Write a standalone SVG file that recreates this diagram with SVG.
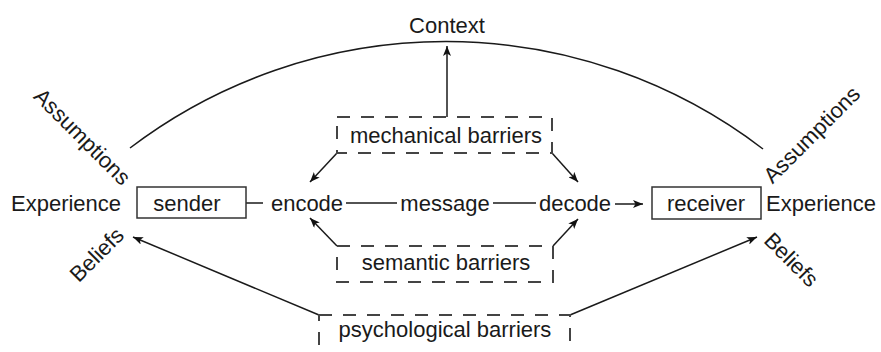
<svg xmlns="http://www.w3.org/2000/svg" width="881" height="352" viewBox="0 0 881 352">
<defs>
<marker id="ah" viewBox="0 0 10 8" refX="10" refY="4" markerWidth="10" markerHeight="8" markerUnits="userSpaceOnUse" orient="auto">
<path d="M0,0 L10,4 L0,8 L2.5,4 Z" fill="#111"/>
</marker>
<style>
text{font-family:"Liberation Sans",Arial,sans-serif;font-size:22px;fill:#1a1a1a}
.m{text-anchor:middle}
.ln{fill:none;stroke:#1a1a1a;stroke-width:1.5}
.ar{fill:none;stroke:#1a1a1a;stroke-width:1.5;marker-end:url(#ah)}
.box{fill:none;stroke:#333;stroke-width:1.5}
.dash{fill:none;stroke:#444;stroke-width:2;stroke-dasharray:13 11}
</style>
</defs>
<rect width="881" height="352" fill="#fff"/>
<g id="connectors">
<path class="ln" d="M130,148 A522,522 0 0 1 763,149"/>
<line class="ar" x1="447" y1="117" x2="447" y2="46"/>
<line class="ln" x1="246" y1="203" x2="263" y2="203"/>
<line class="ln" x1="346" y1="203" x2="397" y2="203"/>
<line class="ln" x1="493" y1="203" x2="536" y2="203"/>
<line class="ar" x1="615" y1="204" x2="643" y2="204"/>
<line class="ar" x1="337" y1="153" x2="310" y2="182"/>
<line class="ar" x1="552" y1="153" x2="578" y2="182"/>
<line class="ar" x1="337" y1="246" x2="310" y2="218"/>
<line class="ar" x1="553" y1="246" x2="578" y2="219"/>
<line class="ar" x1="319" y1="315" x2="133" y2="237"/>
<line class="ar" x1="570" y1="315" x2="757" y2="237"/>
</g>
<g id="context"><text class="m" x="447" y="33">Context</text></g>
<g id="left-labels">
<text class="m" transform="translate(77,142) rotate(45)">Assumptions</text>
<text x="11" y="211">Experience</text>
<text class="m" transform="translate(102,260) rotate(-45)">Beliefs</text>
</g>
<g id="right-labels">
<text class="m" transform="translate(817,140) rotate(-45)">Assumptions</text>
<text x="766" y="211">Experience</text>
<text class="m" transform="translate(786,265) rotate(45)">Beliefs</text>
</g>
<g id="sender"><rect class="box" x="137" y="187" width="109" height="31"/><text class="m" x="187" y="211">sender</text></g>
<g id="encode"><text class="m" x="307" y="211">encode</text></g>
<g id="message"><text class="m" x="445" y="211">message</text></g>
<g id="decode"><text class="m" x="575" y="211">decode</text></g>
<g id="receiver"><rect class="box" x="652" y="187" width="109" height="32"/><text class="m" x="706" y="211">receiver</text></g>
<g id="mechanical-barriers"><rect class="dash" x="337" y="117" width="215" height="36"/><text class="m" x="446" y="143">mechanical barriers</text></g>
<g id="semantic-barriers"><rect class="dash" x="337" y="246" width="216" height="36"/><text class="m" x="446" y="270">semantic barriers</text></g>
<g id="psychological-barriers"><rect class="dash" x="319" y="315" width="251" height="40"/><text class="m" x="445" y="337">psychological barriers</text></g>
</svg>
